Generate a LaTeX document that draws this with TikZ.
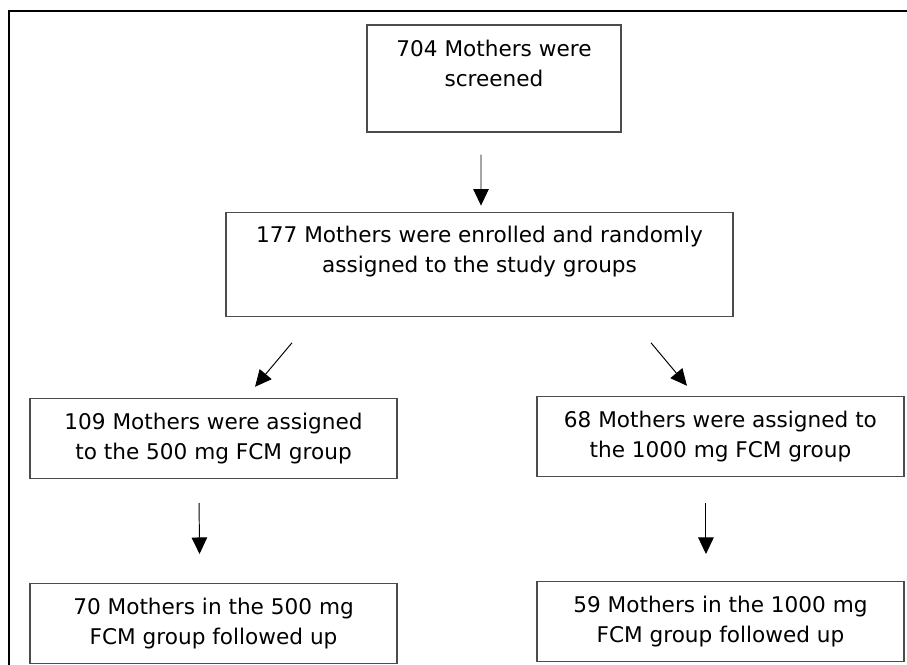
\documentclass[tikz,border=0pt]{standalone}
\usepackage{fontspec}
\setmainfont{DejaVu Sans}
\usetikzlibrary{positioning,arrows.meta,calc}

\begin{document}
\begin{tikzpicture}[
    x=0.02cm, y=-0.02cm,
    node distance=1.58cm,
    stage/.style={rectangle, draw=black!70, line width=0.7pt, fill=white,
        align=center, minimum width=7.34cm, minimum height=1.6cm,
        font=\fontsize{12.3pt}{17pt}\selectfont},
    flow/.style={-{Triangle[length=3.3mm, width=3.1mm]}, line width=0.55pt, black},
]
\useasboundingbox (0,0) rectangle (907,665);
% outer frame, open to the right and bottom
\draw[line width=1pt] (9,665) -- (9,11) -- (907,11);

\node[stage, minimum width=5.08cm, minimum height=2.14cm] (screen) at (494,78.5) {704 Mothers were\\screened\\\mbox{}};
\node[stage, minimum width=10.14cm, minimum height=2.08cm, below=1.58cm of screen, xshift=-0.29cm] (enrol) {177 Mothers were enrolled and randomly\\assigned to the study groups\\\mbox{}};
\node[stage, below=1.62cm of enrol, xshift=-5.32cm] (low) {109 Mothers were assigned\\to the 500 mg FCM group};
\node[stage, below=1.58cm of enrol, xshift=4.82cm] (high) {68 Mothers were assigned to\\the 1000 mg FCM group};
\node[stage, below=2.08cm of low] (lowfu) {70 Mothers in the 500 mg\\FCM group followed up};
\node[stage, below=2.08cm of high] (highfu) {59 Mothers in the 1000 mg\\FCM group followed up};

\draw[flow] ($(screen.south)+(-13,22)$) -- ($(enrol.north)+(1.5,-6)$);
\draw[flow] ($(enrol.south)+(-187.5,26)$) -- ($(low.north)+(41.5,-11)$);
\draw[flow] ($(enrol.south)+(171.5,26)$) -- ($(high.north)+(-33.5,-10)$);
\draw[flow] ($(low.south)+(-14.5,24)$) -- ($(lowfu.north)+(-14,-29)$);
\draw[flow] ($(high.south)+(-14.5,26)$) -- ($(highfu.north)+(-14.5,-27)$);
\end{tikzpicture}
\end{document}
